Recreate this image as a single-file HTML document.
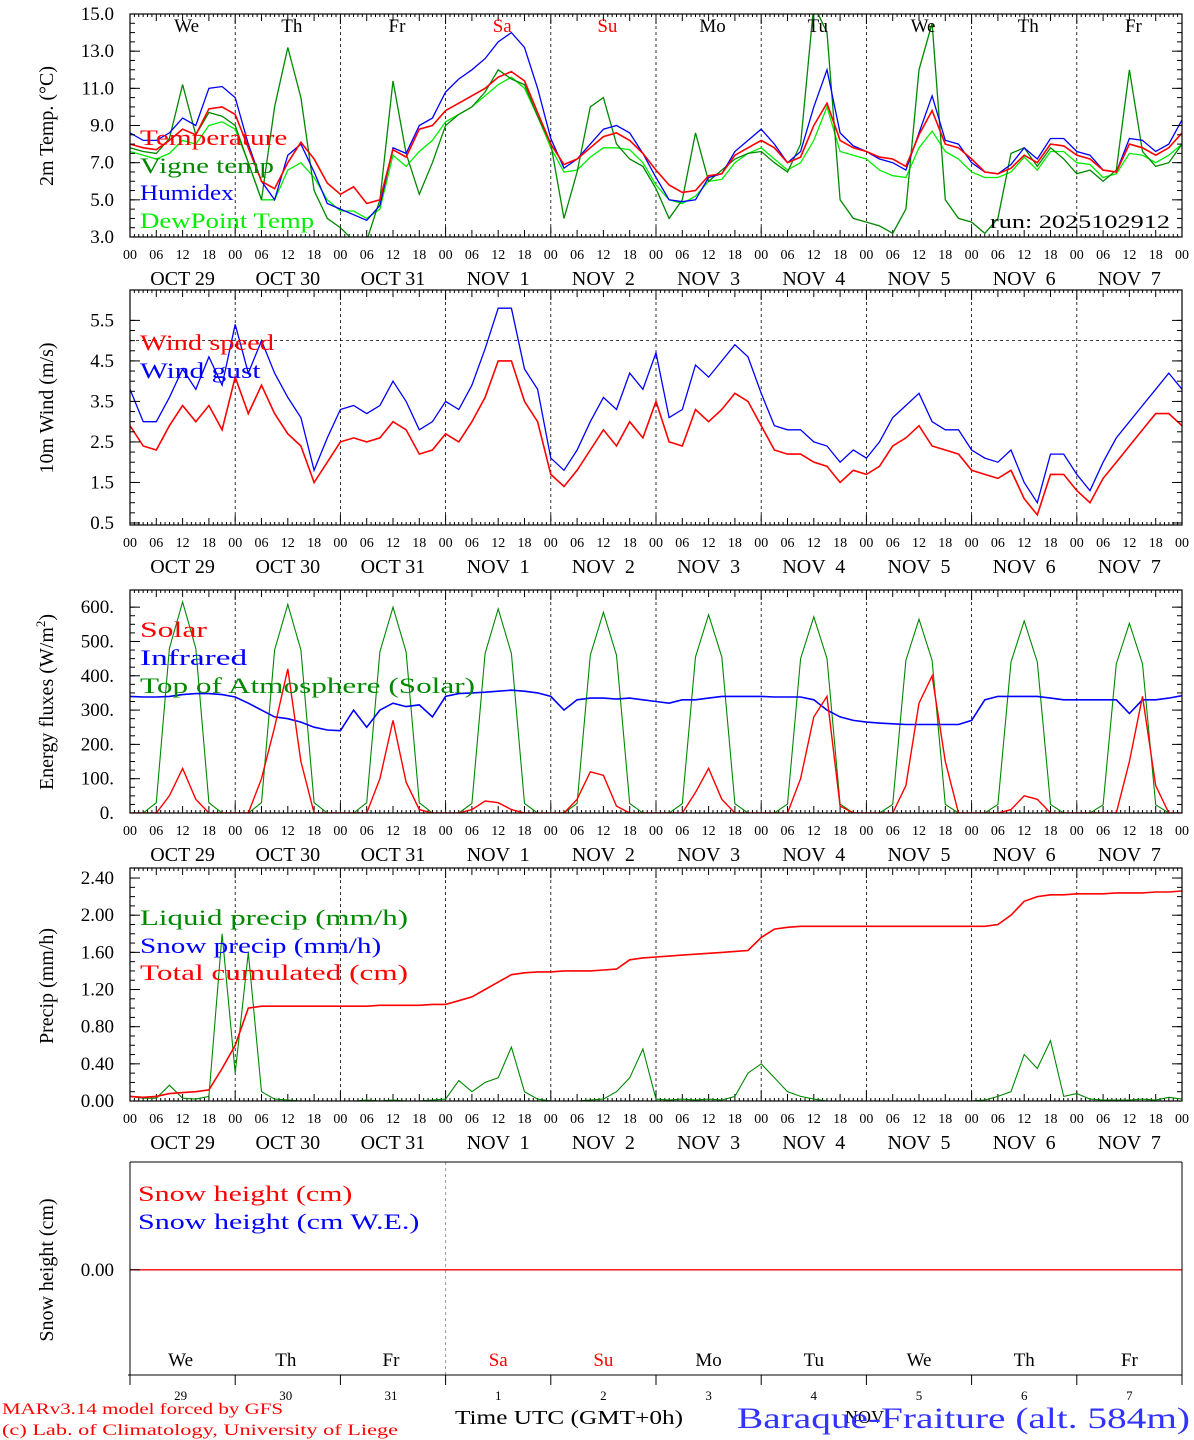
<!DOCTYPE html>
<html><head><meta charset="utf-8"><style>
html,body{margin:0;padding:0;background:#fff;}
svg{display:block;font-family:"Liberation Serif",serif;}
</style></head><body>
<svg id="chart" width="1194" height="1440" viewBox="0 0 1194 1440" xmlns="http://www.w3.org/2000/svg"></svg>
<script>
// ===== DATA (3-hourly, 81 points from Oct 29 00 UTC to Nov 8 00 UTC) =====
const dayNames=["We","Th","Fr","Sa","Su","Mo","Tu","We","Th","Fr"];
const dateLabels=["OCT 29","OCT 30","OCT 31","NOV  1","NOV  2","NOV  3","NOV  4","NOV  5","NOV  6","NOV  7"];
const dayNums=["29","30","31","1","2","3","4","5","6","7"];
const hourLabels=["00","06","12","18"];
const tempTicks=[15.0,13.0,11.0,9.0,7.0,5.0,3.0];
const windTicks=[5.5,4.5,3.5,2.5,1.5,0.5];
const fluxTicks=[600,500,400,300,200,100,0];
const precipTicks=[2.40,2.00,1.60,1.20,0.80,0.40,0.00];
const temperature=[8.0,7.8,7.7,8.2,8.8,8.5,9.9,10.0,9.6,7.8,6.0,5.6,7.0,8.1,7.2,5.9,5.3,5.7,4.8,5.0,7.7,7.3,8.8,9.0,9.8,10.2,10.6,11.0,11.6,11.9,11.4,9.7,8.0,6.9,7.2,7.8,8.4,8.6,8.2,7.5,6.6,5.8,5.4,5.5,6.3,6.4,7.4,7.8,8.2,7.8,7.0,7.3,9.0,10.2,8.2,7.8,7.6,7.3,7.2,6.8,8.5,9.8,8.0,7.8,7.2,6.5,6.4,6.7,7.4,7.0,8.0,7.9,7.4,7.2,6.6,6.5,8.0,7.8,7.4,7.8,8.6];
const vigneTemp=[7.8,7.6,7.5,8.3,11.2,8.5,9.7,9.5,9.0,7.0,5.0,10.0,13.2,10.5,5.5,4.0,3.5,2.8,2.8,5.0,11.4,7.5,5.3,7.0,9.0,9.6,10.0,10.8,12.0,11.5,11.2,9.5,8.0,4.0,6.5,10.0,10.5,8.0,7.2,6.8,5.6,4.0,5.0,8.6,6.0,6.6,7.2,7.5,7.6,7.0,6.5,8.0,15.5,14.0,5.0,4.0,3.8,3.6,3.2,4.5,12.0,14.5,5.0,4.0,3.8,3.2,4.0,7.5,7.8,6.8,7.8,7.2,6.4,6.6,6.0,6.6,12.0,7.6,6.8,7.0,8.0];
const humidex=[8.6,8.2,8.2,8.6,9.4,9.0,11.0,11.1,10.5,8.0,6.0,5.0,7.4,8.0,6.5,4.8,4.5,4.2,3.9,4.7,7.8,7.5,9.0,9.4,10.8,11.5,12.0,12.6,13.5,14.0,13.2,11.0,8.3,6.7,7.2,8.0,8.8,9.0,8.6,7.5,6.2,5.0,4.9,5.0,6.2,6.4,7.6,8.2,8.8,8.0,7.0,7.6,10.0,12.0,8.6,7.9,7.6,7.2,7.0,6.6,8.6,10.6,8.2,8.0,7.0,6.5,6.4,6.9,7.8,7.2,8.3,8.3,7.6,7.4,6.6,6.5,8.3,8.2,7.6,8.0,9.3];
const dewPoint=[7.6,7.4,7.2,7.5,8.2,8.0,9.0,9.2,8.8,7.0,5.0,5.0,6.6,7.0,6.2,5.0,4.4,4.4,4.0,4.5,7.4,6.8,7.6,8.2,9.2,9.6,10.0,10.6,11.2,11.6,11.0,9.5,7.8,6.5,6.6,7.3,7.8,7.8,7.7,7.0,5.8,5.0,4.8,5.2,6.0,6.1,7.0,7.5,7.8,7.2,6.6,7.0,8.2,10.0,7.6,7.4,7.2,6.6,6.3,6.2,7.8,8.7,7.6,7.2,6.5,6.2,6.2,6.5,7.3,6.6,7.6,7.6,7.0,6.9,6.2,6.4,7.5,7.4,7.0,7.4,8.0];
const windSpeed=[2.9,2.4,2.3,2.9,3.4,3.0,3.4,2.8,4.1,3.2,3.9,3.2,2.7,2.4,1.5,2.0,2.5,2.6,2.5,2.6,3.0,2.8,2.2,2.3,2.7,2.5,3.0,3.6,4.5,4.5,3.5,3.0,1.7,1.4,1.8,2.3,2.8,2.4,3.0,2.6,3.5,2.5,2.4,3.3,3.0,3.3,3.7,3.5,2.9,2.3,2.2,2.2,2.0,1.9,1.5,1.8,1.7,1.9,2.4,2.6,2.9,2.4,2.3,2.2,1.8,1.7,1.6,1.8,1.1,0.7,1.7,1.7,1.3,1.0,1.6,2.0,2.4,2.8,3.2,3.2,2.9];
const windGust=[3.8,3.0,3.0,3.6,4.3,3.8,4.6,3.9,5.4,4.2,5.0,4.2,3.6,3.1,1.8,2.6,3.3,3.4,3.2,3.4,4.0,3.5,2.8,3.0,3.5,3.3,3.9,4.8,5.8,5.8,4.3,3.8,2.1,1.8,2.3,3.0,3.6,3.3,4.2,3.8,4.7,3.1,3.3,4.4,4.1,4.5,4.9,4.6,3.7,2.9,2.8,2.8,2.5,2.4,2.0,2.3,2.1,2.5,3.1,3.4,3.7,3.0,2.8,2.8,2.3,2.1,2.0,2.3,1.5,1.0,2.2,2.2,1.7,1.3,2.0,2.6,3.0,3.4,3.8,4.2,3.8];
const solar=[0,0,0,50,130,40,0,0,0,0,100,250,420,150,0,0,0,0,0,100,270,90,10,0,0,0,10,35,30,10,0,0,0,0,40,120,110,20,0,0,0,0,0,60,130,40,0,0,0,0,0,100,280,340,20,0,0,0,0,80,320,400,150,0,0,0,0,10,50,40,0,0,0,0,0,0,150,340,80,0,0];
const infrared=[340,338,338,340,345,348,348,345,338,320,300,280,275,265,250,242,240,300,250,300,320,310,315,280,340,348,350,352,355,358,355,350,340,300,330,335,335,332,335,330,325,320,330,330,335,340,340,340,340,338,338,338,330,300,280,270,265,262,260,258,258,258,258,258,270,330,340,340,340,340,335,330,330,330,330,330,290,330,330,335,342];
const topOfAtmosphere=[0,0,30,480,615,480,30,0,0,0,30,475,608,475,30,0,0,0,30,470,600,470,30,0,0,0,28,465,595,465,28,0,0,0,28,460,585,460,28,0,0,0,27,455,578,455,27,0,0,0,26,450,572,450,26,0,0,0,25,445,565,445,25,0,0,0,25,440,560,440,25,0,0,0,24,435,553,435,24,0,0];
const liquidPrecip=[0.05,0.03,0.03,0.17,0.03,0.02,0.05,1.8,0.3,1.6,0.1,0.02,0.01,0,0,0,0,0,0.01,0,0.01,0,0,0.01,0.02,0.22,0.1,0.2,0.25,0.58,0.1,0.02,0,0,0,0.01,0.02,0.1,0.25,0.56,0.02,0.01,0.02,0.01,0.02,0.01,0.05,0.3,0.4,0.25,0.1,0.05,0.02,0,0,0,0,0,0,0,0,0,0,0,0,0.01,0.05,0.1,0.5,0.35,0.65,0.05,0.08,0.02,0.01,0.01,0.01,0.02,0.01,0.04,0.02];
const snowPrecip=new Array(81).fill(0);
const totalCumulated=[0.05,0.04,0.05,0.08,0.09,0.1,0.12,0.35,0.6,1.0,1.02,1.02,1.02,1.02,1.02,1.02,1.02,1.02,1.02,1.03,1.03,1.03,1.03,1.04,1.04,1.08,1.12,1.2,1.28,1.36,1.38,1.39,1.39,1.4,1.4,1.4,1.41,1.42,1.52,1.54,1.55,1.56,1.57,1.58,1.59,1.6,1.61,1.62,1.76,1.85,1.87,1.88,1.88,1.88,1.88,1.88,1.88,1.88,1.88,1.88,1.88,1.88,1.88,1.88,1.88,1.88,1.9,2.0,2.15,2.2,2.22,2.22,2.23,2.23,2.23,2.24,2.24,2.24,2.25,2.25,2.26];
const snowHeight=new Array(81).fill(0);

// ===== RENDER =====
const NS="http://www.w3.org/2000/svg";
const svg=document.getElementById("chart");
const X0=130,X1=1182;
function xAt(k){return X0+(X1-X0)*k/80;}
function el(tag,attrs,parent){const e=document.createElementNS(NS,tag);for(const a in attrs)e.setAttribute(a,attrs[a]);(parent||svg).appendChild(e);return e;}
function txt(s,x,y,size,color,anchor,parent){const t=el("text",{x:x,y:y,"font-size":size,fill:color||"#000","text-anchor":anchor||"start"},parent);t.textContent=s;return t;}
const dayW=(X1-X0)/10;

function makeScale(top,bottom,vTop,vBot){return v=>top+(vTop-v)/(vTop-vBot)*(bottom-top);}

function panelFrame(name,top,bottom,idx){
  const g=el("g",{});
  
  
  const cp=el("clipPath",{id:"clip"+idx},g);
  el("rect",{x:X0,y:top,width:X1-X0,height:bottom-top},cp);
  for(let d=1;d<10;d++){const x=X0+d*dayW;
    const l=el("line",{x1:x,x2:x,y1:top,y2:bottom,stroke:"#000","stroke-width":0.8,"stroke-dasharray":"3,3"},g);
    
    
  }
  for(let h=0;h<=240;h++){const x=X0+(X1-X0)*h/240;
    const len=h%24==0?10:(h%6==0?7:3);
    el("line",{x1:x,x2:x,y1:bottom,y2:bottom-len,stroke:"#000","stroke-width":1},g);
    el("line",{x1:x,x2:x,y1:top,y2:top+len,stroke:"#000","stroke-width":1},g);
  }
  return g;
}
function frameRect(g,top,bottom){const r=el("rect",{x:X0,y:top,width:X1-X0,height:bottom-top,fill:"none",stroke:"#000","stroke-width":1.2},g);
  
  }
function yTicks(g,ticks,sc,fmt,top,bottom){
  ticks.forEach(v=>{const y=sc(v);
    el("line",{x1:X0,x2:X0+10,y1:y,y2:y,stroke:"#000"},g);
    el("line",{x1:X1,x2:X1-10,y1:y,y2:y,stroke:"#000"},g);
    const t=txt(fmt(v),X0-16,y+6,19,"#000","end",g);
    
    
  });
  if(ticks.length>1){const step=(ticks[0]-ticks[1])/4;
    for(let v=ticks[ticks.length-1];v<=ticks[0]+1e-9;v+=step){const y=sc(v);
      el("line",{x1:X0,x2:X0+5,y1:y,y2:y,stroke:"#000"},g);el("line",{x1:X1,x2:X1-5,y1:y,y2:y,stroke:"#000"},g);}}
}
function xLabels(g,bottom){
  for(let d=0;d<10;d++){
    for(let q=0;q<4;q++){const x=X0+d*dayW+q*dayW/4;
      const t=txt(hourLabels[q],x,bottom+22,14,"#000","middle",g);
      
      }
    const t=txt(dateLabels[d],X0+d*dayW+dayW/2,bottom+48,20,"#000","middle",g);
    t.setAttribute("xml:space","preserve");t.style.whiteSpace="pre";
    
    
  }
  const t=txt("00",X1,bottom+22,14,"#000","middle",g);
  
  
}
function series(g,arr,sc,color,name,idx,w){
  const p=arr.map((v,k)=>xAt(k).toFixed(1)+","+sc(v).toFixed(1)).join(" ");
  const pl=el("polyline",{points:p,fill:"none",stroke:color,"stroke-width":w||1.3,"clip-path":"url(#clip"+idx+")"},g);
  
  
}
function yTitle(g,s,cx,cy){const t=txt(s,0,0,20,"#000","middle",g);t.setAttribute("transform","translate("+cx+","+cy+") rotate(-90)");
  
  return t;}
function stretch(t,len){t.setAttribute("textLength",len);t.setAttribute("lengthAdjust","spacingAndGlyphs");}
function legend(g,s,x,y,color){const t=txt(s,x,y,22,color,"start",g);stretch(t,s.length*13.4);
  
  }

// Panel 1 temperature
(function(){const top=14,bottom=237;const sc=makeScale(top,bottom,15,3);
  const g=panelFrame("temperature-panel",top,bottom,1);
  series(g,dewPoint,sc,"#00ee00","dewpoint-line",1);
  series(g,vigneTemp,sc,"#008800","vigne-temp-line",1);
  series(g,humidex,sc,"#0000ff","humidex-line",1);
  series(g,temperature,sc,"#ff0000","temperature-line",1,1.6);
  frameRect(g,top,bottom);
  yTicks(g,tempTicks,sc,v=>v.toFixed(1),top,bottom);
  xLabels(g,bottom);
  dayNames.forEach((n,d)=>{const t=txt(n,X0+d*dayW+dayW/2+4,32,19,(d==3||d==4)?"#ff0000":"#000","middle",g);
    
    });
  yTitle(g,"2m Temp. (\u00B0C)",53,126);
  legend(g,"Temperature",140,145,"#ff0000");
  legend(g,"Vigne temp",140,173,"#008800");
  legend(g,"Humidex",140,200,"#0000ff");
  legend(g,"DewPoint Temp",140,228,"#00ee00");
  const r=txt("run: 2025102912",1170,228,19,"#000","end",g);stretch(r,180);
  
  
})();
// Panel 2 wind
(function(){const top=290,bottom=525;const sc=makeScale(top,bottom,6.25,0.45);
  const g=panelFrame("wind-panel",top,bottom,2);
  const ref=el("line",{x1:X0,x2:X1,y1:sc(5),y2:sc(5),stroke:"#000","stroke-dasharray":"3,3","stroke-width":0.8},g);
  
  
  series(g,windGust,sc,"#0000ff","wind-gust-line",2);
  series(g,windSpeed,sc,"#ff0000","wind-speed-line",2,1.6);
  frameRect(g,top,bottom);
  yTicks(g,windTicks,sc,v=>v.toFixed(1),top,bottom);
  xLabels(g,bottom);
  yTitle(g,"10m Wind (m/s)",53,408);
  legend(g,"Wind speed",140,350,"#ff0000");
  legend(g,"Wind gust",140,378,"#0000ff");
})();
// Panel 3 energy
(function(){const top=590,bottom=813;const sc=makeScale(top,bottom,650,0);
  const g=panelFrame("energy-panel",top,bottom,3);
  series(g,topOfAtmosphere,sc,"#008800","toa-solar-line",3,1.1);
  series(g,infrared,sc,"#0000ff","infrared-line",3,1.6);
  series(g,solar,sc,"#ff0000","solar-line",3,1.4);
  frameRect(g,top,bottom);
  yTicks(g,fluxTicks,sc,v=>v+".",top,bottom);
  xLabels(g,bottom);
  const t=yTitle(g,"",53,702);
  t.innerHTML='Energy fluxes (W/m<tspan dy="-8" font-size="13">2</tspan><tspan dy="8">)</tspan>';
  legend(g,"Solar",140,637,"#ff0000");
  legend(g,"Infrared",140,665,"#0000ff");
  legend(g,"Top of Atmosphere (Solar)",140,693,"#008800");
})();
// Panel 4 precip
(function(){const top=868,bottom=1101;const sc=makeScale(top,bottom,2.508,0);
  const g=panelFrame("precip-panel",top,bottom,4);
  series(g,liquidPrecip,sc,"#008800","liquid-precip-line",4,1.1);
  series(g,snowPrecip,sc,"#0000ff","snow-precip-line",4,1.1);
  series(g,totalCumulated,sc,"#ff0000","total-cumulated-line",4,1.6);
  frameRect(g,top,bottom);
  yTicks(g,precipTicks,sc,v=>v.toFixed(2),top,bottom);
  xLabels(g,bottom);
  yTitle(g,"Precip (mm/h)",53,986);
  legend(g,"Liquid precip (mm/h)",140,925,"#008800");
  legend(g,"Snow precip (mm/h)",140,953,"#0000ff");
  legend(g,"Total cumulated (cm)",140,980,"#ff0000");
})();
// Panel 5 snow
(function(){const top=1162,bottom=1375;const sc=makeScale(top,bottom,0.8,-0.78);
  const g=el("g",{});
  
  
  const cp=el("clipPath",{id:"clip5"},g);el("rect",{x:X0,y:top,width:X1-X0,height:bottom-top},cp);
  const dv=el("line",{x1:X0+3*dayW,x2:X0+3*dayW,y1:top,y2:bottom+10,stroke:"#999","stroke-dasharray":"3,3"},g);
  
  
  series(g,snowHeight,sc,"#ff0000","snow-height-line",5,1.3);
  el("line",{x1:X0,x2:X1,y1:top,y2:top,stroke:"#000"},g);
  el("line",{x1:X0,x2:X0,y1:top,y2:bottom,stroke:"#000"},g);
  el("line",{x1:X1,x2:X1,y1:top,y2:bottom,stroke:"#000"},g);
  el("line",{x1:X0-2,x2:X1,y1:bottom,y2:bottom,stroke:"#000"},g);
  for(let d=0;d<=10;d++){const x=X0+d*dayW;el("line",{x1:x,x2:x,y1:bottom,y2:bottom+10,stroke:"#000"},g);}
  el("line",{x1:X0,x2:X0+10,y1:sc(0),y2:sc(0),stroke:"#000"},g);
  const tl=txt("0.00",X0-16,sc(0)+6,19,"#000","end",g);
  
  
  dayNames.forEach((n,d)=>{const cx=X0+d*dayW+dayW/2-(d<3?2:0);
    const t=txt(n,cx,1366,19,(d==3||d==4)?"#ff0000":"#000","middle",g);
    
    
    const t2=txt(dayNums[d],cx,1400,13,"#000","middle",g);
    
    });
  yTitle(g,"Snow height (cm)",53,1270);
  legend(g,"Snow height (cm)",138,1201,"#ff0000");
  legend(g,"Snow height (cm W.E.)",138,1229,"#0000ff");
})();
// Footer
(function(){const g=el("g",{});
  
  
  let t=txt("MARv3.14 model forced by GFS",2,1414,16,"#ff0000","start",g);stretch(t,281);
  
  
  t=txt("(c) Lab. of Climatology, University of Liege",2,1435,16,"#ff0000","start",g);stretch(t,396);
  
  
  t=txt("Time UTC (GMT+0h)",455,1424,20,"#000","start",g);stretch(t,228);
  
  
  t=txt("NOV",845,1423,18,"#000","start",g);
  
  
  t=txt("Baraque-Fraiture (alt. 584m)",737,1428,30,"#3333ff","start",g);stretch(t,453);
  
  
})();
</script>
</body></html>
